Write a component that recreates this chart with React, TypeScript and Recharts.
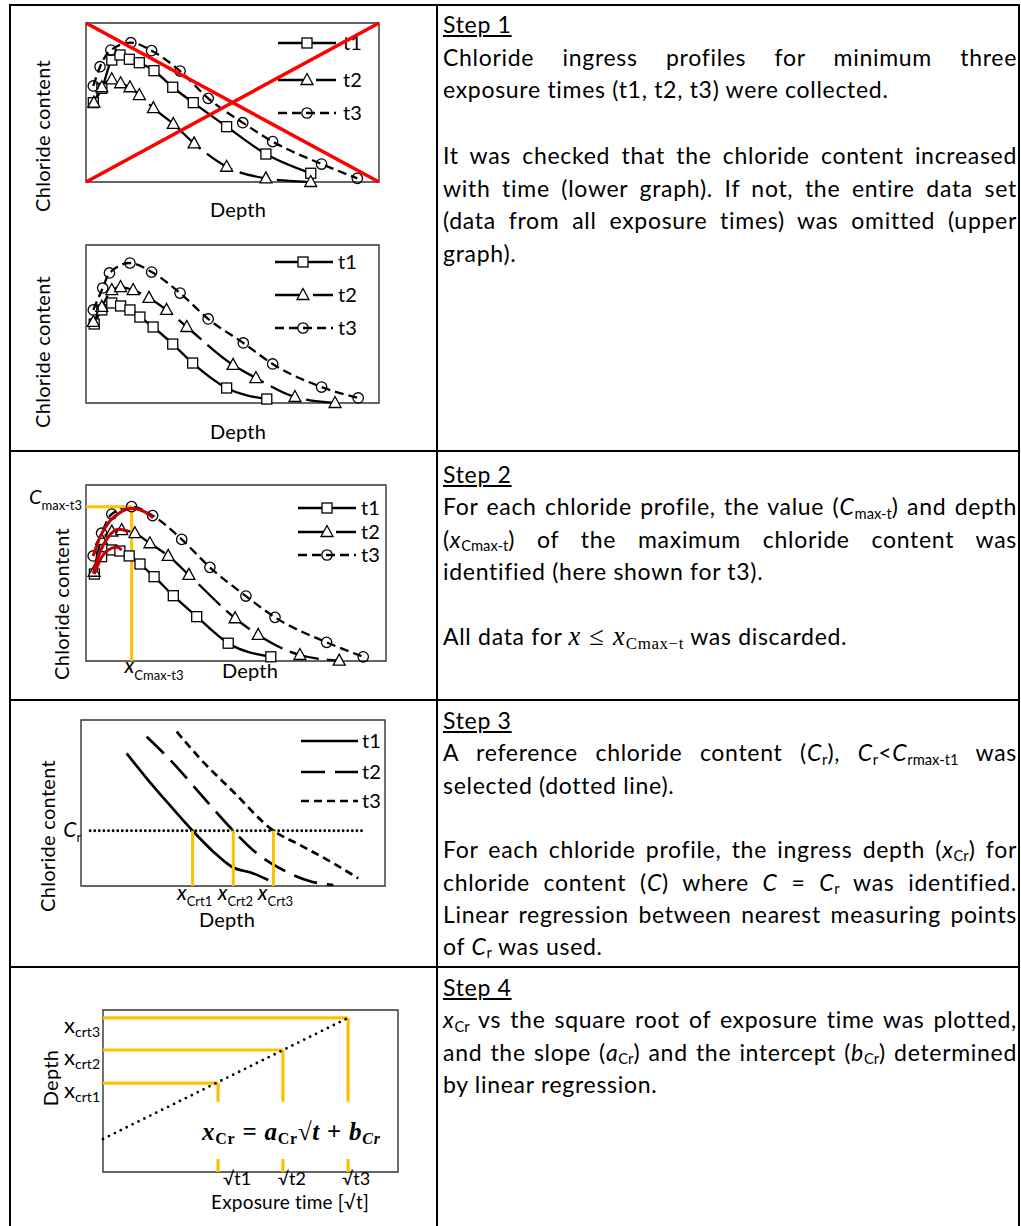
import React from 'react'
import { LineChart, Line, XAxis, YAxis, ReferenceArea, ReferenceLine } from 'recharts'

type Pt = { x: number; y: number }
type MarkerKind = 'square' | 'triangle' | 'circle'

const FONT = "Lato, 'Noto Sans', sans-serif"
const MATH = "'Liberation Serif', 'DejaVu Serif', serif"
const GOLD = '#FFC000'
const CELL_W = 437

// depth (0-100 across the plot) vs chloride content (0-100 up the plot)
const profileKeys = ['t1', 't2', 't3']

// Step 1, upper graph: content does not grow with time, set rejected
const rejectT1: Pt[] = [
  { x: 2.5, y: 49.9 }, { x: 5.4, y: 58.9 }, { x: 8.8, y: 76.7 }, { x: 11.6, y: 79.9 },
  { x: 14.8, y: 77.2 }, { x: 18.2, y: 75.0 }, { x: 23.2, y: 70.0 }, { x: 29.6, y: 59.6 },
  { x: 36.6, y: 49.9 }, { x: 48.0, y: 34.8 }, { x: 61.4, y: 17.6 }, { x: 76.7, y: 5.5 },
]
const rejectT2: Pt[] = [
  { x: 2.7, y: 49.9 }, { x: 5.4, y: 59.6 }, { x: 8.8, y: 64.6 }, { x: 11.8, y: 62.1 },
  { x: 15.0, y: 59.6 }, { x: 18.2, y: 54.7 }, { x: 23.0, y: 46.4 }, { x: 29.8, y: 36.5 },
  { x: 36.9, y: 24.3 }, { x: 48.0, y: 9.6 }, { x: 61.4, y: 2.3 }, { x: 76.7, y: 0 },
]
const rejectT3: Pt[] = [
  { x: 2.5, y: 60.4 }, { x: 4.8, y: 72.5 }, { x: 8.5, y: 83.0 }, { x: 15.3, y: 87.6 },
  { x: 22.4, y: 82.6 }, { x: 32.1, y: 69.8 }, { x: 41.7, y: 52.6 }, { x: 53.5, y: 37.3 },
  { x: 63.7, y: 25.4 }, { x: 80.4, y: 11.3 }, { x: 92.6, y: 2.3 },
]

// Step 1, lower graph: content grows with time, set kept
const keepT1: Pt[] = [
  { x: 2.8, y: 50.0 }, { x: 5.4, y: 58.9 }, { x: 8.8, y: 63.3 }, { x: 11.8, y: 61.4 },
  { x: 15.0, y: 58.9 }, { x: 18.4, y: 54.4 }, { x: 22.9, y: 48.1 }, { x: 29.6, y: 37.3 },
  { x: 36.4, y: 25.3 }, { x: 48.0, y: 9.5 }, { x: 61.7, y: 2.5 },
]
const keepT2: Pt[] = [
  { x: 2.5, y: 51.3 }, { x: 5.4, y: 60.8 }, { x: 8.8, y: 71.5 }, { x: 11.8, y: 73.4 },
  { x: 16.1, y: 71.5 }, { x: 21.5, y: 66.5 }, { x: 27.5, y: 58.9 }, { x: 34.4, y: 48.1 },
  { x: 50.2, y: 24.1 }, { x: 58.0, y: 15.8 }, { x: 71.3, y: 3.8 }, { x: 85.0, y: 0 },
]
const keepT3: Pt[] = [
  { x: 2.5, y: 58.9 }, { x: 5.7, y: 72.8 }, { x: 8.0, y: 82.3 }, { x: 15.0, y: 88.6 },
  { x: 22.4, y: 82.9 }, { x: 32.1, y: 69.6 }, { x: 41.7, y: 53.2 }, { x: 53.7, y: 38.0 },
  { x: 63.7, y: 24.7 }, { x: 80.4, y: 10.1 }, { x: 92.9, y: 3.2 },
]

// Step 2: same profiles with the peak fits
const peakT1: Pt[] = [
  { x: 2.8, y: 49.4 }, { x: 5.2, y: 59.3 }, { x: 8.6, y: 63.1 }, { x: 11.3, y: 62.5 },
  { x: 14.4, y: 59.7 }, { x: 18.0, y: 55.1 }, { x: 22.7, y: 47.9 }, { x: 29.1, y: 37.1 },
  { x: 36.9, y: 25.2 }, { x: 47.4, y: 10.1 }, { x: 61.6, y: 2.4 },
]
const peakT2: Pt[] = [
  { x: 2.7, y: 50.7 }, { x: 5.2, y: 68.8 }, { x: 8.6, y: 73.5 }, { x: 11.9, y: 74.4 },
  { x: 16.3, y: 72.6 }, { x: 21.3, y: 66.9 }, { x: 27.4, y: 59.7 }, { x: 34.3, y: 48.9 },
  { x: 49.7, y: 24.3 }, { x: 57.4, y: 14.8 }, { x: 71.3, y: 3.4 }, { x: 84.4, y: 0.2 },
]
const peakT3: Pt[] = [
  { x: 2.4, y: 59.7 }, { x: 5.2, y: 72.6 }, { x: 8.6, y: 83.5 }, { x: 15.2, y: 87.7 },
  { x: 22.2, y: 82.6 }, { x: 31.9, y: 69.1 }, { x: 41.3, y: 53.2 }, { x: 53.3, y: 36.9 },
  { x: 63.0, y: 24.8 }, { x: 80.2, y: 10.6 }, { x: 92.4, y: 2.4 },
]
const fitT1: Pt[] = [{ x: 2.8, y: 49.4 }, { x: 4.7, y: 57.4 }, { x: 7.4, y: 63.1 }, { x: 10.2, y: 64.6 }, { x: 11.9, y: 63.1 }]
const fitT2: Pt[] = [{ x: 2.4, y: 49.8 }, { x: 4.7, y: 62.1 }, { x: 7.4, y: 70.3 }, { x: 10.8, y: 74.8 }, { x: 14.1, y: 73.5 }]
const fitT3: Pt[] = [
  { x: 2.4, y: 59.7 }, { x: 4.7, y: 70.6 }, { x: 8.0, y: 79.7 }, { x: 11.3, y: 84.3 },
  { x: 15.2, y: 86.8 }, { x: 19.1, y: 85.2 }, { x: 22.4, y: 81.4 },
]
const cMaxT3 = 87.7
const xCMaxT3 = 15.2

// Step 3: trimmed profiles and the reference content
const trimT1: Pt[] = [
  { x: 15.0, y: 79.9 }, { x: 21.6, y: 64.9 }, { x: 28.2, y: 50.8 }, { x: 36.7, y: 33.3 },
  { x: 43.5, y: 20.7 }, { x: 49.6, y: 11.6 }, { x: 56.7, y: 7.6 }, { x: 61.6, y: 3.6 },
]
const trimT2: Pt[] = [
  { x: 21.6, y: 89.9 }, { x: 30.4, y: 73.9 }, { x: 39.1, y: 55.8 }, { x: 50.1, y: 33.3 },
  { x: 57.8, y: 19.7 }, { x: 66.5, y: 9.6 }, { x: 75.9, y: 2.6 }, { x: 83.0, y: 0.6 },
]
const trimT3: Pt[] = [
  { x: 31.5, y: 93.0 }, { x: 39.1, y: 76.9 }, { x: 50.1, y: 56.8 }, { x: 63.3, y: 33.3 },
  { x: 72.0, y: 24.7 }, { x: 83.0, y: 13.7 }, { x: 91.2, y: 4.6 },
]
const cR = 33.3
const cRSpan = [3, 93.4]
const xCrt = [36.7, 50.1, 63.3]
const xCrtNames = ['Crt1', 'Crt2', 'Crt3']

// Step 4: ingress depth vs square root of time
const sqrtT = [39.0, 61.0, 83.1]
const depthCr = [54.9, 75.3, 95.1]
const sqrtTNames = ['√t1', '√t2', '√t3']
const depthNames = ['crt1', 'crt2', 'crt3']
const regression: Pt[] = [{ x: 0, y: 20.4 }, { x: 83.1, y: 95.1 }]
const labelGap = [43.4, 8.0]

const profileStyle: Record<string, { dash?: string; marker: MarkerKind }> = {
  t1: { dash: undefined, marker: 'square' },
  t2: { dash: '30 8', marker: 'triangle' },
  t3: { dash: '9 5', marker: 'circle' },
}
const smoothDash: Record<string, string | undefined> = { t1: undefined, t2: '24 10', t3: '8 5' }

function Marker({ kind, cx, cy }: { kind: MarkerKind; cx: number; cy: number }) {
  if (kind === 'square')
    return <rect x={cx - 5} y={cy - 5} width={10} height={10} fill="#fff" stroke="#000" strokeWidth={1.3} />
  if (kind === 'triangle')
    return (
      <polygon
        points={`${cx},${cy - 6.5} ${cx + 6},${cy + 4.5} ${cx - 6},${cy + 4.5}`}
        fill="#fff"
        stroke="#000"
        strokeWidth={1.3}
      />
    )
  return <circle cx={cx} cy={cy} r={5.2} fill="none" stroke="#000" strokeWidth={1.3} />
}

const renderDot = (kind: MarkerKind) => (p: any) => (
  <Marker key={`${kind}-${p.index}`} kind={kind} cx={p.cx} cy={p.cy} />
)

type Box = { x0: number; x1: number; y0: number; y1: number }

function Panel({ top, bottom, box, children }: { top: number; bottom: number; box: Box; children: React.ReactNode }) {
  return (
    <div style={{ position: 'absolute', left: 0, top }}>
      <LineChart
        width={CELL_W}
        height={bottom - top}
        margin={{ top: box.y0 - top, bottom: bottom - box.y1, left: box.x0, right: CELL_W - box.x1 }}
      >
        <XAxis type="number" dataKey="x" domain={[0, 100]} hide />
        <YAxis type="number" domain={[0, 100]} hide />
        <ReferenceArea x1={0} x2={100} y1={0} y2={100} fill="none" fillOpacity={0} stroke="#333" strokeWidth={1.4} />
        {children}
      </LineChart>
    </div>
  )
}

function VTitle({ x, y, text }: { x: number; y: number; text: string }) {
  return (
    <text x={x} y={y} dy="0.35em" transform={`rotate(-90 ${x} ${y})`} textAnchor="middle" fontSize={20} letterSpacing={0.3} fontFamily={FONT} fill="#000">
      {text}
    </text>
  )
}

function HTitle({ x, y, text, size = 20 }: { x: number; y: number; text: string; size?: number }) {
  return (
    <text x={x} y={y} textAnchor="middle" fontSize={size} letterSpacing={0.2} fontFamily={FONT} fill="#000">
      {text}
    </text>
  )
}

// in-plot key: sample line, optional marker, series name
function SeriesKey({ rows, x0, x1, mx, tx, markers, width, dashes }: {
  rows: number[]; x0: number; x1: number; mx: number; tx: number; markers: boolean; width: number; dashes: Record<string, string | undefined>
}) {
  return (
    <g>
      {profileKeys.map((k, i) => (
        <g key={k}>
          <line x1={x0} x2={x1} y1={rows[i]} y2={rows[i]} stroke="#000" strokeWidth={width} strokeDasharray={dashes[k]} />
          {markers && <Marker kind={profileStyle[k].marker} cx={mx} cy={rows[i]} />}
          <text x={tx} y={rows[i] + 7} fontSize={20} fontFamily={FONT} fill="#000">{k}</text>
        </g>
      ))}
    </g>
  )
}

const profileLines = (sets: Pt[][]) =>
  profileKeys.map((k, i) => (
    <Line
      key={k}
      data={sets[i]}
      dataKey="y"
      type="monotone"
      stroke="#000"
      strokeWidth={2.3}
      strokeDasharray={profileStyle[k].dash}
      dot={renderDot(profileStyle[k].marker)}
      activeDot={false}
      isAnimationActive={false}
    />
  ))

const dashMap = Object.fromEntries(profileKeys.map((k) => [k, profileStyle[k].dash]))

function RejectedChart() {
  const top = 6
  return (
    <Panel top={top} bottom={225} box={{ x0: 86, x1: 379, y0: 23, y1: 182 }}>
      {profileLines([rejectT1, rejectT2, rejectT3])}
      <SeriesKey rows={[43 - top, 80 - top, 113 - top]} x0={278} x1={336} mx={307} tx={343} markers width={2.3} dashes={dashMap} />
      <ReferenceLine segment={[{ x: 0, y: 100 }, { x: 100, y: 0 }]} stroke="#FF0000" strokeWidth={3.5} zIndex={800} />
      <ReferenceLine segment={[{ x: 0, y: 0 }, { x: 100, y: 100 }]} stroke="#FF0000" strokeWidth={3.5} zIndex={800} />
      <VTitle x={43} y={136 - top} text="Chloride content" />
      <HTitle x={238} y={217 - top} text="Depth" />
    </Panel>
  )
}

function AcceptedChart() {
  const top = 225
  return (
    <Panel top={top} bottom={450} box={{ x0: 86, x1: 379, y0: 245, y1: 403 }}>
      {profileLines([keepT1, keepT2, keepT3])}
      <SeriesKey rows={[262 - top, 295 - top, 328 - top]} x0={275} x1={333} mx={303} tx={338} markers width={2.3} dashes={dashMap} />
      <VTitle x={43} y={352 - top} text="Chloride content" />
      <HTitle x={238} y={439 - top} text="Depth" />
    </Panel>
  )
}

function MaxChart() {
  const top = 452
  return (
    <Panel top={top} bottom={699} box={{ x0: 86, x1: 386, y0: 485, y1: 661 }}>
      {profileLines([peakT1, peakT2, peakT3])}
      {[fitT1, fitT2, fitT3].map((d, i) => (
        <Line
          key={`fit${i}`}
          data={d}
          dataKey="y"
          type="monotone"
          stroke="#C00000"
          strokeWidth={3}
          dot={false}
          activeDot={false}
          isAnimationActive={false}
          zIndex={700}
        />
      ))}
      <ReferenceLine
        segment={[{ x: 0, y: cMaxT3 }, { x: xCMaxT3, y: cMaxT3 }]}
        stroke={GOLD}
        strokeWidth={3}
        label={(p: any) => (
          <text x={p.viewBox.x - 4} y={p.viewBox.y - 3} textAnchor="end" fontFamily={FONT} fill="#000">
            <tspan fontSize={20} fontStyle="italic">C</tspan>
            <tspan fontSize={13} dy={6}>max-t3</tspan>
          </text>
        )}
      />
      <ReferenceLine
        segment={[{ x: xCMaxT3, y: 0 }, { x: xCMaxT3, y: cMaxT3 }]}
        stroke={GOLD}
        strokeWidth={3}
        label={(p: any) => (
          <text x={p.viewBox.x - 7} y={p.viewBox.y + p.viewBox.height + 12} fontFamily={FONT} fill="#000">
            <tspan fontSize={21} fontStyle="italic">x</tspan>
            <tspan fontSize={13} dy={7}>Cmax-t3</tspan>
          </text>
        )}
      />
      <SeriesKey rows={[508 - top, 532 - top, 555 - top]} x0={298} x1={356} mx={327} tx={361} markers width={2.3} dashes={dashMap} />
      <VTitle x={62} y={604 - top} text="Chloride content" />
      <HTitle x={250} y={678 - top} text="Depth" />
    </Panel>
  )
}

function CrChart() {
  const top = 701
  return (
    <Panel top={top} bottom={966} box={{ x0: 81, x1: 385, y0: 720, y1: 886 }}>
      {[trimT1, trimT2, trimT3].map((d, i) => (
        <Line
          key={profileKeys[i]}
          data={d}
          dataKey="y"
          type="monotone"
          stroke="#000"
          strokeWidth={2.7}
          strokeDasharray={smoothDash[profileKeys[i]]}
          dot={false}
          activeDot={false}
          isAnimationActive={false}
        />
      ))}
      <ReferenceLine
        segment={[{ x: cRSpan[0], y: cR }, { x: cRSpan[1], y: cR }]}
        stroke="#000"
        strokeWidth={2.9}
        strokeDasharray="0 4.6"
        strokeLinecap="round"
        label={(p: any) => (
          <text x={p.viewBox.x - 9} y={p.viewBox.y + 6} textAnchor="end" fontFamily={FONT} fill="#000">
            <tspan fontSize={21} fontStyle="italic">C</tspan>
            <tspan fontSize={13} dy={5}>r</tspan>
          </text>
        )}
      />
      {xCrt.map((xc, i) => (
        <ReferenceLine
          key={xCrtNames[i]}
          segment={[{ x: xc, y: 0 }, { x: xc, y: cR }]}
          stroke={GOLD}
          strokeWidth={3}
          label={(p: any) => (
            <text x={p.viewBox.x + 2} y={p.viewBox.y + p.viewBox.height + 14} textAnchor="middle" fontFamily={FONT} fill="#000">
              <tspan fontSize={21} fontStyle="italic">x</tspan>
              <tspan fontSize={13} dy={6}>{xCrtNames[i]}</tspan>
            </text>
          )}
        />
      ))}
      <SeriesKey rows={[741 - top, 772 - top, 801 - top]} x0={301} x1={358} mx={0} tx={362} markers={false} width={2.7} dashes={smoothDash} />
      <VTitle x={48} y={836 - top} text="Chloride content" />
      <HTitle x={227} y={927 - top} text="Depth" />
    </Panel>
  )
}

const tickNudge = [19, 9, 8]

function RegressionChart() {
  const top = 968
  return (
    <Panel top={top} bottom={1226} box={{ x0: 103, x1: 398, y0: 1010, y1: 1172 }}>
      {sqrtT.map((s, i) => (
        <ReferenceLine
          key={`h${i}`}
          segment={[{ x: 0, y: depthCr[i] }, { x: s, y: depthCr[i] }]}
          stroke={GOLD}
          strokeWidth={3.2}
          label={(p: any) => (
            <text x={p.viewBox.x - 3} y={p.viewBox.y + 15} textAnchor="end" fontFamily={FONT} fill="#000">
              <tspan fontSize={22}>x</tspan>
              <tspan fontSize={14} dy={4}>{depthNames[i]}</tspan>
            </text>
          )}
        />
      ))}
      {sqrtT.map((s, i) => (
        <ReferenceLine key={`v${i}`} segment={[{ x: s, y: depthCr[i] }, { x: s, y: labelGap[0] }]} stroke={GOLD} strokeWidth={3.2} />
      ))}
      {sqrtT.map((s, i) => (
        <ReferenceLine
          key={`t${i}`}
          segment={[{ x: s, y: labelGap[1] }, { x: s, y: 0 }]}
          stroke={GOLD}
          strokeWidth={3.2}
          label={(p: any) => (
            <text x={p.viewBox.x + tickNudge[i]} y={p.viewBox.y + p.viewBox.height + 13} textAnchor="middle" fontSize={18} fontFamily={FONT} fill="#000">
              {sqrtTNames[i]}
            </text>
          )}
        />
      ))}
      <Line data={regression} dataKey="y" type="linear" stroke="#000" strokeWidth={2.8} strokeDasharray="0 6.6" strokeLinecap="round" dot={false} activeDot={false} isAnimationActive={false} />
      <text x={202} y={1140 - top} textLength={178} lengthAdjust="spacing" fontFamily={MATH} fontWeight="bold" fontSize={25} fill="#000">
        <tspan fontStyle="italic">x</tspan>
        <tspan fontSize={16} dy={4}>Cr</tspan>
        <tspan dy={-4}> = </tspan>
        <tspan fontStyle="italic">a</tspan>
        <tspan fontSize={16} dy={4}>Cr</tspan>
        <tspan dy={-4}>√</tspan>
        <tspan fontStyle="italic">t</tspan>
        <tspan> + </tspan>
        <tspan fontStyle="italic">b</tspan>
        <tspan fontSize={16} fontStyle="italic" dy={4}>Cr</tspan>
      </text>
      <VTitle x={51} y={1078 - top} text="Depth" />
      <HTitle x={290} y={1209 - top} size={19} text="Exposure time [√t]" />
    </Panel>
  )
}

// ---- right-hand column ----

const subStyle: React.CSSProperties = { fontSize: '0.64em', position: 'relative', top: '0.22em', letterSpacing: 0 }
const Sub = ({ children }: { children: React.ReactNode }) => <span style={subStyle}>{children}</span>
const I = ({ children }: { children: React.ReactNode }) => <i>{children}</i>
const M = ({ children }: { children: React.ReactNode }) => (
  <span style={{ fontFamily: MATH, fontSize: '1.15em', letterSpacing: 1.2 }}>{children}</span>
)

type TextRow = { j?: boolean; c: React.ReactNode } | null

const step1: TextRow[] = [
  { c: <u>Step 1</u> },
  { j: true, c: 'Chloride ingress profiles for minimum three' },
  { c: 'exposure times (t1, t2, t3) were collected.' },
  null,
  { j: true, c: 'It was checked that the chloride content increased' },
  { j: true, c: 'with time (lower graph). If not, the entire data set' },
  { j: true, c: '(data from all exposure times) was omitted (upper' },
  { c: 'graph).' },
]

const step2: TextRow[] = [
  { c: <u>Step 2</u> },
  { j: true, c: <>For each chloride profile, the value (<I>C</I><Sub>max-t</Sub>) and depth</> },
  { j: true, c: <>(<I>x</I><Sub>Cmax-t</Sub>) of the maximum chloride content was</> },
  { c: 'identified (here shown for t3).' },
  null,
  {
    c: (
      <>
        All data for <M><i>x</i> ≤ <i>x</i><span style={{ ...subStyle, letterSpacing: 0.6 }}>Cmax−t</span></M> was discarded.
      </>
    ),
  },
]

const step3: TextRow[] = [
  { c: <u>Step 3</u> },
  { j: true, c: <>A reference chloride content (<I>C</I><Sub>r</Sub>), <I>C</I><Sub>r</Sub>&lt;<I>C</I><Sub>rmax-t1</Sub> was</> },
  { c: 'selected (dotted line).' },
  null,
  { j: true, c: <>For each chloride profile, the ingress depth (<I>x</I><Sub>Cr</Sub>) for</> },
  { j: true, c: <>chloride content (<I>C</I>) where <I>C</I> = <I>C</I><Sub>r</Sub> was identified.</> },
  { j: true, c: 'Linear regression between nearest measuring points' },
  { c: <>of <I>C</I><Sub>r</Sub> was used.</> },
]

const step4: TextRow[] = [
  { c: <u>Step 4</u> },
  { j: true, c: <><I>x</I><Sub>Cr</Sub> vs the square root of exposure time was plotted,</> },
  { j: true, c: <>and the slope (<I>a</I><Sub>Cr</Sub>) and the intercept (<I>b</I><Sub>Cr</Sub>) determined</> },
  { c: 'by linear regression.' },
]

function StepText({ rows, first, gap }: { rows: TextRow[]; first: number; gap: number }) {
  return (
    <>
      {rows.map((r, i) =>
        r ? (
          <div
            key={i}
            style={{
              position: 'absolute',
              left: 443,
              width: 574,
              top: first + i * gap - 16,
              height: 32,
              lineHeight: '32px',
              fontSize: 23,
              letterSpacing: 0.7,
              textAlign: r.j ? 'justify' : 'left',
              textAlignLast: r.j ? 'justify' : 'auto',
            }}
          >
            {r.c}
          </div>
        ) : null,
      )}
    </>
  )
}

function Rule({ x, y, w, h }: { x: number; y: number; w: number; h: number }) {
  return <div style={{ position: 'absolute', left: x, top: y, width: w, height: h, background: '#000' }} />
}

export default function App() {
  return (
    <div
      style={{
        position: 'absolute',
        left: 0,
        top: 0,
        width: 1021,
        height: 1226,
        overflow: 'hidden',
        background: '#fff',
        fontFamily: FONT,
        color: '#000',
      }}
    >
      <RejectedChart />
      <AcceptedChart />
      <MaxChart />
      <CrChart />
      <RegressionChart />
      <StepText rows={step1} first={24} gap={32.7} />
      <StepText rows={step2} first={474} gap={32.4} />
      <StepText rows={step3} first={720} gap={32.3} />
      <StepText rows={step4} first={987} gap={32.3} />
      <Rule x={9} y={4} w={1011} h={2} />
      <Rule x={9} y={450} w={1011} h={2} />
      <Rule x={9} y={699} w={1011} h={2} />
      <Rule x={9} y={966} w={1011} h={2} />
      <Rule x={9} y={4} w={2} h={1230} />
      <Rule x={436} y={4} w={2} h={1230} />
      <Rule x={1018} y={4} w={2} h={1230} />
    </div>
  )
}
